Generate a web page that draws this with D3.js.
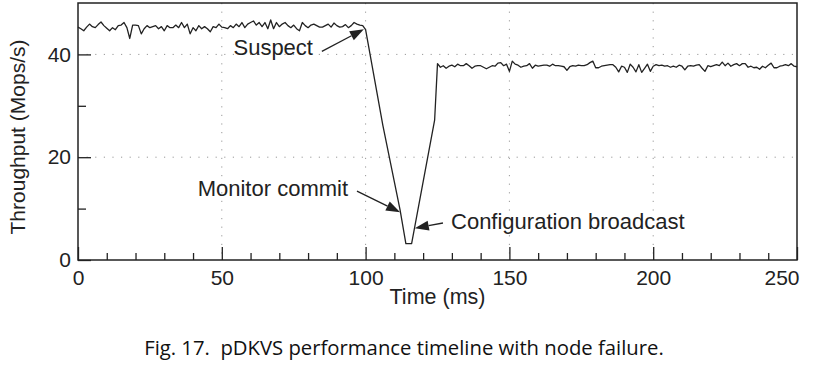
<!DOCTYPE html>
<html>
<head>
<meta charset="utf-8">
<script src="https://cdn.jsdelivr.net/npm/d3@7"></script>
<style>
  body { margin: 0; background: #fff; }
  svg { display: block; }
</style>
</head>
<body>
<svg></svg>
<script>
// throughput samples (Mops/s), one per ms
var sampleMs = 1;
var preStart = 0;
var preValues = [
  45.3, 45.0, 44.6, 45.3, 45.9, 45.4, 45.2, 45.8, 46.3, 45.6,
  45.1, 44.6, 45.2, 44.8, 45.6, 45.7, 46.2, 45.2, 43.1, 45.7,
  45.7, 45.6, 44.0, 45.0, 45.6, 45.2, 45.4, 45.6, 45.0, 45.4,
  44.6, 45.6, 45.2, 45.2, 45.7, 45.2, 46.2, 45.2, 45.9, 44.0,
  45.2, 44.6, 45.6, 45.0, 45.4, 45.0, 44.4, 45.4, 45.2, 45.9,
  45.3, 45.2, 45.0, 45.6, 45.2, 45.9, 45.4, 46.2, 45.2, 45.9,
  46.2, 46.5, 45.7, 46.2, 45.4, 46.2, 45.0, 46.7, 45.0, 46.2,
  45.4, 45.9, 46.2, 45.6, 45.2, 45.7, 45.0, 44.6, 46.2, 45.6,
  45.2, 45.7, 45.9, 45.6, 45.3, 45.3, 45.6, 45.9, 45.3, 46.1,
  45.6, 45.3, 45.4, 45.8, 45.2, 45.6, 46.2, 45.9, 45.7, 45.6
];
var dipTimes = [100, 106, 112, 114, 116, 124];
var dipValues = [44.8, 26.2, 9.7, 3.2, 3.2, 27.2];
var postStart = 125;
var postValues = [
  38.2, 37.5, 37.8, 37.3, 37.7, 37.9, 37.6, 38.1, 37.8, 37.8,
  38.2, 37.8, 37.3, 37.7, 37.8, 37.8, 37.5, 37.2, 37.5, 37.8,
  37.7, 38.3, 38.4, 37.8, 38.1, 36.7, 38.7, 38.1, 37.9, 37.5,
  37.7, 37.8, 38.2, 37.3, 37.9, 37.7, 37.8, 37.9, 37.9, 37.7,
  38.1, 37.8, 37.8, 37.7, 37.6, 36.9, 37.6, 37.8, 37.7, 37.9,
  37.8, 37.8, 38.0, 38.4, 38.7, 37.4, 37.4, 37.7, 37.8, 37.9,
  38.0, 38.0, 37.5, 36.6, 37.7, 37.5, 36.5, 38.1, 37.5, 36.6,
  38.0, 36.5, 37.3, 38.1, 36.7, 37.7, 38.0, 37.8, 37.9, 37.7,
  37.8, 37.5, 37.7, 37.5, 37.9, 37.7, 37.0, 37.7, 37.8, 37.7,
  37.9, 38.0, 37.3, 36.7, 37.8, 37.6, 37.8, 38.0, 37.8, 38.5,
  37.8, 38.3, 37.7, 38.0, 38.2, 37.8, 38.2, 38.2, 37.5, 37.7,
  37.4, 37.5, 37.1, 37.7, 37.4, 37.9, 38.3, 37.4, 37.4, 37.7,
  37.8, 38.0, 37.8, 38.2, 37.7, 37.6
];

var xMajor = [0, 50, 100, 150, 200, 250];
var xMinor = [10, 20, 30, 40, 60, 70, 80, 90, 110, 120, 130, 140, 160, 170, 180, 190, 210, 220, 230, 240];
var yMajor = [0, 20, 40];
var yMinor = [10, 30];
var xGrid = [50, 100, 150, 200];
var yGrid = [20, 40];

// annotations: label, text anchor point, arrow tail, arrow head (data units)
var notes = [
  {label: 'Suspect', anchor: 'end', tx: 81.7, ty: 39.8, x1: 84.8, y1: 40.6, x2: 99.4, y2: 44.9},
  {label: 'Monitor commit', anchor: 'end', tx: 93.9, ty: 12.5, x1: 97.0, y1: 13.4, x2: 112.0, y2: 9.3},
  {label: 'Configuration broadcast', anchor: 'start', tx: 129.7, ty: 6.0, x1: 126.9, y1: 7.2, x2: 117.1, y2: 6.2}
];

var width = 815;
var height = 371;
var mLeft = 78, mRight = 797, mTop = 3, mBottom = 260;
var font = 'Liberation Sans, Arial, Helvetica, sans-serif';
var ink = '#222';

var data = [];
preValues.forEach(function(v, i) { data.push({t: preStart + i * sampleMs, v: v}); });
dipTimes.forEach(function(t, i) { data.push({t: t, v: dipValues[i]}); });
postValues.forEach(function(v, i) { data.push({t: postStart + i * sampleMs, v: v}); });

var x = d3.scaleLinear().domain([0, 250]).range([mLeft, mRight]);
var y = d3.scaleLinear().domain([0, 50]).range([mBottom, mTop]);

var svg = d3.select('svg').attr('width', width).attr('height', height);

// dotted grid
svg.append('g').selectAll('line').data(xGrid).enter().append('line')
  .attr('x1', d => x(d)).attr('x2', d => x(d))
  .attr('y1', mTop).attr('y2', mBottom)
  .attr('stroke', '#999').attr('stroke-width', 1).attr('stroke-dasharray', '1.2,7.4');
svg.append('g').selectAll('line').data(yGrid).enter().append('line')
  .attr('x1', mLeft).attr('x2', mRight)
  .attr('y1', d => y(d)).attr('y2', d => y(d))
  .attr('stroke', '#999').attr('stroke-width', 1).attr('stroke-dasharray', '1.2,7.4');

// axes, ticks pointing inward
var xAxis = d3.axisBottom(x).tickValues(xMajor).tickSize(-13).tickSizeOuter(0).tickPadding(10);
var xAxisMinor = d3.axisBottom(x).tickValues(xMinor).tickSize(-7).tickSizeOuter(0).tickFormat('');
var yAxis = d3.axisLeft(y).tickValues(yMajor).tickSize(-13).tickSizeOuter(0).tickPadding(7);
var yAxisMinor = d3.axisLeft(y).tickValues(yMinor).tickSize(-8).tickSizeOuter(0).tickFormat('');

var gx = svg.append('g').attr('transform', 'translate(0,' + mBottom + ')').call(xAxis);
svg.append('g').attr('transform', 'translate(0,' + mBottom + ')').call(xAxisMinor);
var gy = svg.append('g').attr('transform', 'translate(' + mLeft + ',0)').call(yAxis);
svg.append('g').attr('transform', 'translate(' + mLeft + ',0)').call(yAxisMinor);

svg.selectAll('.domain').remove();
svg.selectAll('.tick line').attr('stroke', ink).attr('stroke-width', 1.3);
svg.selectAll('.tick text').attr('fill', ink).style('font-family', font).style('font-size', '21px');
gx.selectAll('.tick text').filter(d => d === 250).attr('text-anchor', 'end').attr('dx', 2);

// frame
svg.append('rect')
  .attr('x', mLeft).attr('y', mTop)
  .attr('width', mRight - mLeft).attr('height', mBottom - mTop)
  .attr('fill', 'none').attr('stroke', ink).attr('stroke-width', 1.5);

// throughput line
var line = d3.line().x(d => x(d.t)).y(d => y(d.v));
svg.append('path')
  .datum(data)
  .attr('d', line)
  .attr('fill', 'none')
  .attr('stroke', ink)
  .attr('stroke-width', 1.3)
  .attr('stroke-linejoin', 'round');

// annotations with filled arrow heads
notes.forEach(function(n) {
  var px1 = x(n.x1), py1 = y(n.y1), px2 = x(n.x2), py2 = y(n.y2);
  var ang = Math.atan2(py2 - py1, px2 - px1);
  var hl = 14, hw = 5;
  var bx = px2 - hl * Math.cos(ang), by = py2 - hl * Math.sin(ang);
  svg.append('line')
    .attr('x1', px1).attr('y1', py1).attr('x2', bx).attr('y2', by)
    .attr('stroke', ink).attr('stroke-width', 1.3);
  svg.append('path')
    .attr('d', 'M' + px2 + ',' + py2 +
      'L' + (bx + hw * Math.sin(ang)) + ',' + (by - hw * Math.cos(ang)) +
      'L' + (bx - hw * Math.sin(ang)) + ',' + (by + hw * Math.cos(ang)) + 'Z')
    .attr('fill', ink);
  svg.append('text')
    .attr('x', x(n.tx)).attr('y', y(n.ty))
    .attr('text-anchor', n.anchor)
    .attr('fill', ink)
    .style('font-family', font).style('font-size', '22px')
    .text(n.label);
});

// axis titles
svg.append('text')
  .attr('x', (mLeft + mRight) / 2).attr('y', 304)
  .attr('text-anchor', 'middle').attr('fill', ink)
  .style('font-family', font).style('font-size', '21.5px')
  .text('Time (ms)');

svg.append('text')
  .attr('transform', 'translate(25,' + 137 + ') rotate(-90)')
  .attr('text-anchor', 'middle').attr('fill', ink)
  .style('font-family', font).style('font-size', '21px')
  .text('Throughput (Mops/s)');

// caption
var cap = svg.append('text')
  .attr('x', 404).attr('y', 355)
  .attr('text-anchor', 'middle').attr('fill', '#111')
  .style('font-family', 'Open Sans, Noto Sans, sans-serif')
  .style('font-size', '19px')
  .style('white-space', 'pre')
  .text('Fig. 17.  pDKVS performance timeline with node failure.');
var w = cap.node().getComputedTextLength();
cap.style('font-size', (19 * 520 / w).toFixed(2) + 'px');
</script>
</body>
</html>
